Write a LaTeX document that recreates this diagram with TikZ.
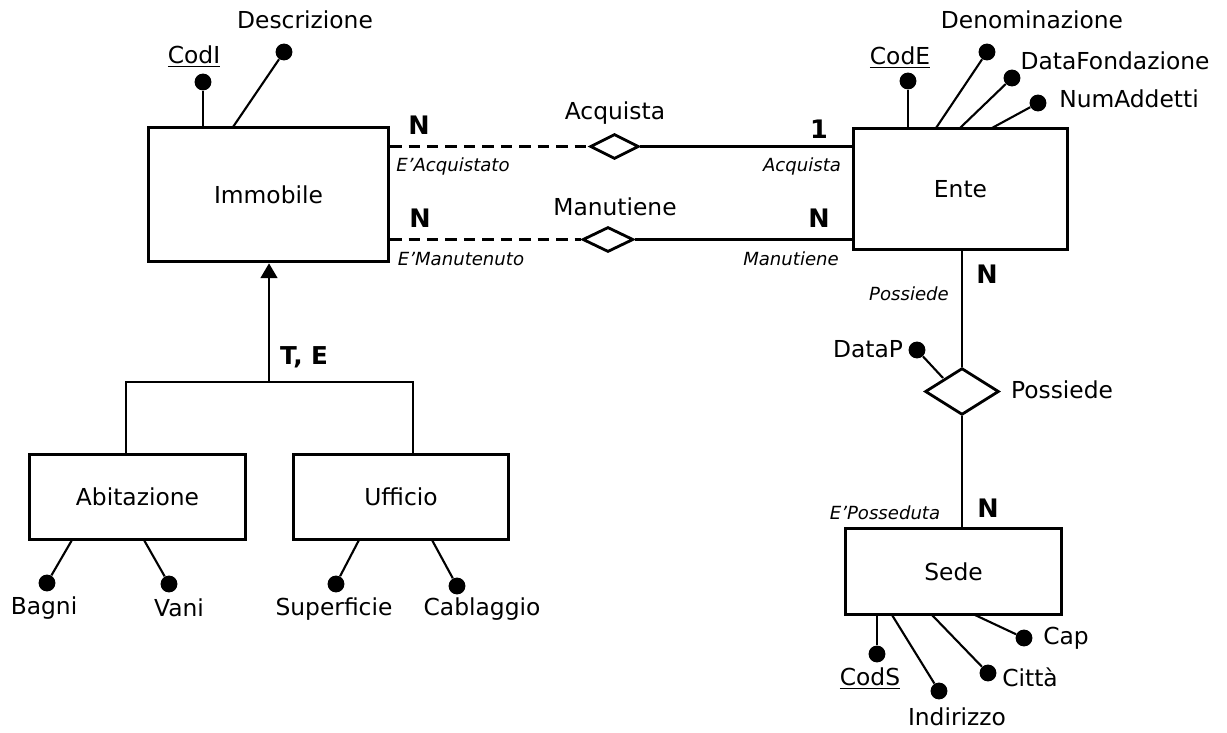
\documentclass[tikz,border=0pt]{standalone}
\usepackage{fontspec}
\setmainfont{DejaVu Sans}
\usetikzlibrary{shapes.geometric,arrows.meta}

\begin{document}
\begin{tikzpicture}[x=0.02cm,y=-0.02cm,
	every node/.style={font=\fontsize{13.3}{15}\selectfont},
	entity/.style={draw,line width=1.8pt,inner sep=0pt},
	rel/.style={draw,diamond,line width=1.6pt,inner sep=0pt},
	dot/.style={circle,fill,inner sep=0pt,minimum size=9.6pt},
	card/.style={font=\fontsize{14.5}{16}\selectfont\bfseries},
	role/.style={font=\fontsize{10.3}{12}\selectfont\itshape},
	link/.style={line width=1.6pt},
	attr/.style={line width=1.2pt}]
			\useasboundingbox (0,0) rectangle (1227,733);

			% entita'
			\node[entity,minimum width=136.6pt,minimum height=76.5pt] (imm) at (268.5,194.5) {Immobile};
			\node[entity,minimum width=121.9pt,minimum height=69.2pt] (ente) at (960.5,189) {Ente};
			\node[entity,minimum width=123pt,minimum height=49.3pt] (sede) at (953.5,571.5) {Sede};
			\node[entity,minimum width=123pt,minimum height=48.8pt] (abit) at (137.5,497) {Abitazione};
			\node[entity,minimum width=122.5pt,minimum height=48.8pt] (uff) at (401,497) {Ufficio};

			% relazioni
			\node[rel,minimum width=27.8pt,minimum height=14.2pt] (acq) at (614.5,146.5) {};
			\node[rel,minimum width=28.9pt,minimum height=14.2pt] (man) at (608,239.5) {};
			\node[rel,minimum width=42pt,minimum height=26.6pt] (pos) at (962,391.5) {};
			\node (lAcq) at (615,113) {Acquista};
			\node (lMan) at (615,207) {Manutiene};
			\node (lPos) at (1062,390) {Possiede};

			\draw[link,dash pattern=on 6.5pt off 4pt] (imm.east |- acq.west) -- (acq.west);
			\draw[link] (acq.east) -- (ente.west |- acq.east);
			\draw[link,dash pattern=on 6.5pt off 4pt] (imm.east |- man.west) -- (man.west);
			\draw[link] (man.east) -- (ente.west |- man.east);
			\draw[link] (ente.south -| pos.north) -- (pos.north);
			\draw[link] (pos.south) -- (sede.north -| pos.south);

			% cardinalita' e ruoli
			\node[card] (c1) at (419,125) {N};
			\node[card] (c2) at (819,129) {1};
			\node[card] (c3) at (420,218) {N};
			\node[card] (c4) at (819,218) {N};
			\node[card] (c5) at (987,274) {N};
			\node[card] (c6) at (988,508) {N};
			\node[role] (r1) at (453,166) {E’Acquistato};
			\node[role] (r2) at (802,166) {Acquista};
			\node[role] (r3) at (461,259) {E’Manutenuto};
			\node[role] (r4) at (791,259) {Manutiene};
			\node[role] (r5) at (909,294) {Possiede};
			\node[role] (r6) at (885,513) {E’Posseduta};

			% generalizzazione
			\coordinate (isa) at (269,382);
			\coordinate (isaL) at (126,382);
			\coordinate (isaR) at (413,382);
			\draw[link,-{Triangle[width=9.5pt,length=8.5pt]}] (isa) -- (imm.south -| isa);
			\draw[link] (abit.north -| isaL) -- (isaL) -- (isaR) -- (uff.north -| isaR);
			\node[font=\fontsize{14}{16}\selectfont\bfseries] (te) at (304,357) {T, E};

			% attributi
			\node[dot] (dCodI) at (203,82) {};
			\node[dot] (dDescr) at (284,52) {};
			\node[dot] (dCodE) at (908,81) {};
			\node[dot] (dDenom) at (987,52) {};
			\node[dot] (dFond) at (1012,78) {};
			\node[dot] (dNum) at (1038,103) {};
			\node[dot] (dDataP) at (917,350) {};
			\node[dot] (dCodS) at (877,654) {};
			\node[dot] (dInd) at (939,691) {};
			\node[dot] (dCitta) at (988,673) {};
			\node[dot] (dCap) at (1024,638) {};
			\node[dot] (dBagni) at (47,583) {};
			\node[dot] (dVani) at (169,584) {};
			\node[dot] (dSup) at (336,584) {};
			\node[dot] (dCabl) at (457,586) {};

			\coordinate (immD) at (233,127);
			\coordinate (enteD) at (936,128);
			\coordinate (enteF) at (960,128);
			\coordinate (enteN) at (992,128);
			\coordinate (posD) at (943,378);
			\coordinate (sedeI) at (892,615);
			\coordinate (sedeC) at (932,615);
			\coordinate (sedeP) at (975,615);
			\coordinate (abitB) at (72,540);
			\coordinate (abitV) at (144,540);
			\coordinate (uffS) at (359,540);
			\coordinate (uffC) at (432,540);

			\draw[attr] (dCodI) -- (dCodI |- imm.north);
			\draw[attr] (dDescr) -- (immD);
			\draw[attr] (dCodE) -- (dCodE |- ente.north);
			\draw[attr] (dDenom) -- (enteD);
			\draw[attr] (dFond) -- (enteF);
			\draw[attr] (dNum) -- (enteN);
			\draw[attr] (dDataP) -- (posD);
			\draw[attr] (dCodS) -- (dCodS |- sede.south);
			\draw[attr] (dInd) -- (sedeI);
			\draw[attr] (dCitta) -- (sedeC);
			\draw[attr] (dCap) -- (sedeP);
			\draw[attr] (dBagni) -- (abitB);
			\draw[attr] (dVani) -- (abitV);
			\draw[attr] (dSup) -- (uffS);
			\draw[attr] (dCabl) -- (uffC);

			\node (lCodI) at (194,57) {\underline{CodI}};
			\node (lDescr) at (305,20) {Descrizione};
			\node (lCodE) at (900,58) {\underline{CodE}};
			\node (lDenom) at (1032,20) {Denominazione};
			\node (lFond) at (1115,61) {DataFondazione};
			\node (lNum) at (1129,99) {NumAddetti};
			\node (lDataP) at (868,349) {DataP};
			\node (lCodS) at (870,679) {\underline{CodS}};
			\node (lInd) at (957,717) {Indirizzo};
			\node (lCitta) at (1030,677) {Città};
			\node (lCap) at (1066,638) {Cap};
			\node (lBagni) at (44,608) {Bagni};
			\node (lVani) at (179,608) {Vani};
			\node (lSup) at (334,609) {Superficie};
			\node (lCabl) at (482,609) {Cablaggio};
\end{tikzpicture}
\end{document}
